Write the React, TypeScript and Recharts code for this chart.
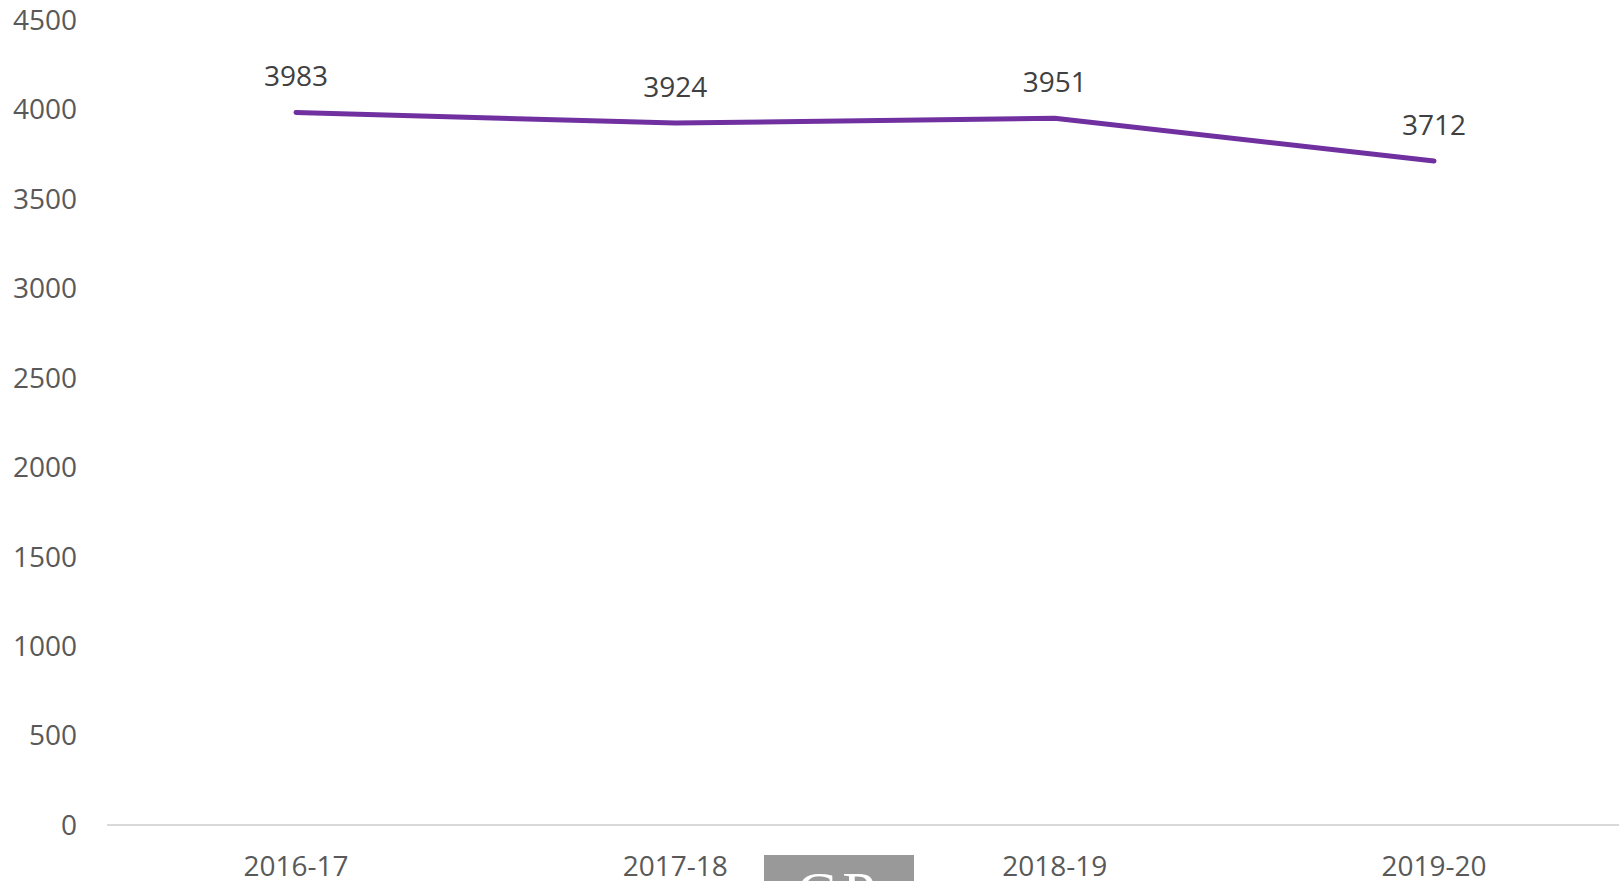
import { LineChart, Line, XAxis, YAxis, LabelList } from 'recharts'

const years = ['2016-17', '2017-18', '2018-19', '2019-20']
const counts = [3983, 3924, 3951, 3712]
const yTicks = [0, 500, 1000, 1500, 2000, 2500, 3000, 3500, 4000, 4500]

const chartData = years.map((year, i) => ({ year, count: counts[i] }))

const font = '"Open Sans", sans-serif'

const TopLabel = (props: any) => {
  const { x, y, value } = props
  return (
    <text x={x} y={y - 26} textAnchor="middle" fill="#404040" fontSize={28} fontFamily={font}>
      {value}
    </text>
  )
}

export default function App() {
  return (
    <div style={{ position: 'absolute', left: 0, top: 0, width: 1619, height: 881, overflow: 'hidden', background: '#fff' }}>
      <LineChart width={1623} height={881} data={chartData} margin={{ top: 20, right: 0, left: 0, bottom: 0 }}>
        <XAxis
          dataKey="year"
          height={56}
          axisLine={{ stroke: '#d9d9d9', strokeWidth: 2 }}
          tickLine={false}
          tickSize={0}
          tickMargin={31}
          tick={{ fill: '#595959', fontSize: 28, fontFamily: font }}
          padding={{ left: 189, right: 189 }}
        />
        <YAxis
          width={107}
          domain={[0, 4500]}
          ticks={yTicks}
          axisLine={false}
          tickLine={false}
          tickSize={0}
          tickMargin={30}
          tick={{ fill: '#595959', fontSize: 28, fontFamily: font }}
        />
        <Line
          dataKey="count"
          stroke="#7030a0"
          strokeWidth={5}
          strokeLinecap="round"
          strokeLinejoin="round"
          dot={false}
          activeDot={false}
          isAnimationActive={false}
        >
          <LabelList dataKey="count" content={TopLabel} />
        </Line>
      </LineChart>
      <div
        style={{
          position: 'absolute', left: 764, top: 855, width: 150, height: 26,
          background: '#999', overflow: 'hidden', color: '#fff',
          fontFamily: '"Liberation Serif", serif', fontSize: 60, lineHeight: '60px',
          textAlign: 'center', letterSpacing: 6,
        }}
      >
        <div style={{ marginTop: 8 }}>CP</div>
      </div>
    </div>
  )
}
